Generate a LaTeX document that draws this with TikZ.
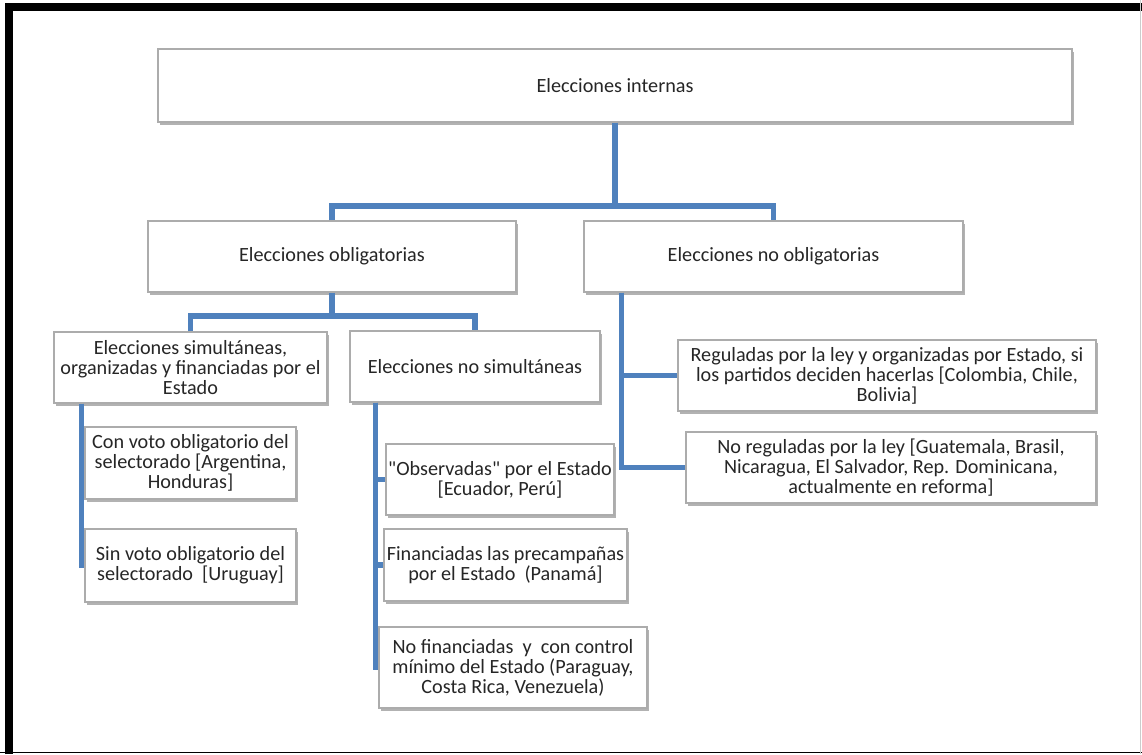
\documentclass[tikz,border=0pt]{standalone}
\usepackage{fontspec}
\setmainfont{Carlito}
\usetikzlibrary{calc,shadows}
\definecolor{linie}{RGB}{79,129,189}
\begin{document}
\begin{tikzpicture}[x=0.02cm,y=-0.02cm,font=\fontsize{11.5}{11.4}\selectfont,
	kasten/.style={draw=gray!65,line width=0.8pt,fill=white,inner sep=0pt,align=center,text=black!85,
		drop shadow={shadow xshift=1.2pt,shadow yshift=-1.6pt,opacity=0.3,fill=black}},
	ast/.style={draw=linie,line width=2.9pt}]
	\useasboundingbox (0,0) rectangle (1142,754);
	\draw[line width=4.5pt] (9,754) -- (9,7) -- (1142,7); \draw[line width=0.8pt] (0,752.5) -- (1142,752.5); \draw[gray!40,line width=0.8pt] (1140.5,0) -- (1140.5,754); %Rahmen
	\node[kasten,minimum width=18.28cm,minimum height=1.46cm] (intern) at (615,85.5) {Elecciones internas};
	\node[kasten,minimum width=7.36cm,minimum height=1.42cm] (oblig) at (332,256.5) {Elecciones obligatorias};
	\node[kasten,minimum width=7.58cm,minimum height=1.42cm] (noblig) at (773.5,256.5) {Elecciones no obligatorias};
	\node[kasten,minimum width=5.46cm,minimum height=1.42cm] (simul) at (190.5,367.5) {Elecciones simultáneas,\\organizadas y financiadas por el\\Estado};
	\node[kasten,minimum width=5cm,minimum height=1.42cm] (nsimul) at (475,366.5) {Elecciones no simultáneas};
	\node[kasten,minimum width=4.22cm,minimum height=1.44cm] (conv) at (190.5,463) {Con voto obligatorio del\\selectorado [Argentina,\\Honduras]};
	\node[kasten,minimum width=4.22cm,minimum height=1.46cm] (sinv) at (190.5,565.5) {Sin voto obligatorio del\\selectorado~~[Uruguay]};
	\node[kasten,minimum width=4.56cm,minimum height=1.42cm] (obs) at (500,479.5) {\textquotedbl Observadas\textquotedbl{} por el Estado\\{[Ecuador, Perú]}};
	\node[kasten,minimum width=4.86cm,minimum height=1.44cm] (fin) at (505.5,565) {Financiadas las precampañas\\por el Estado~~(Panamá]};
	\node[kasten,minimum width=5.36cm,minimum height=1.62cm] (nofin) at (513,667.5) {No financiadas~~y~~con control\\mínimo del Estado (Paraguay,\\Costa Rica, Venezuela)};
	\node[kasten,minimum width=8.36cm,minimum height=1.42cm] (regul) at (887,375.5) {Reguladas por la ley y organizadas por Estado, si\\los partidos deciden hacerlas [Colombia, Chile,\\Bolivia]};
	\node[kasten,minimum width=8.2cm,minimum height=1.42cm] (noregul) at (891,467.5) {No reguladas por la ley [Guatemala, Brasil,\\Nicaragua, El Salvador, Rep. Dominicana,\\actualmente en reforma]};
	\coordinate (gabel1) at (615,206); \coordinate (gabel2) at (332,316);
	\draw[ast] (intern.south) -- (gabel1); \draw[ast] (oblig.north) |- (gabel1) -| (noblig.north);
	\draw[ast] (oblig.south) -- (gabel2); \draw[ast] (simul.north) |- (gabel2) -| (nsimul.north);
	\coordinate (st1) at ($(simul.south west)+(28,0)$);
	\draw[ast] (st1) |- (conv.west); \draw[ast] (st1) |- (sinv.west);
	\coordinate (st2) at ($(nsimul.south west)+(26,0)$);
	\draw[ast] (st2) |- (obs.west); \draw[ast] (st2) |- (fin.west); \draw[ast] (st2) |- (nofin.west);
	\coordinate (st3) at ($(noblig.south west)+(38,0)$);
	\draw[ast] (st3) |- (regul.west); \draw[ast] (st3) |- (noregul.west);
\end{tikzpicture}
\end{document}
